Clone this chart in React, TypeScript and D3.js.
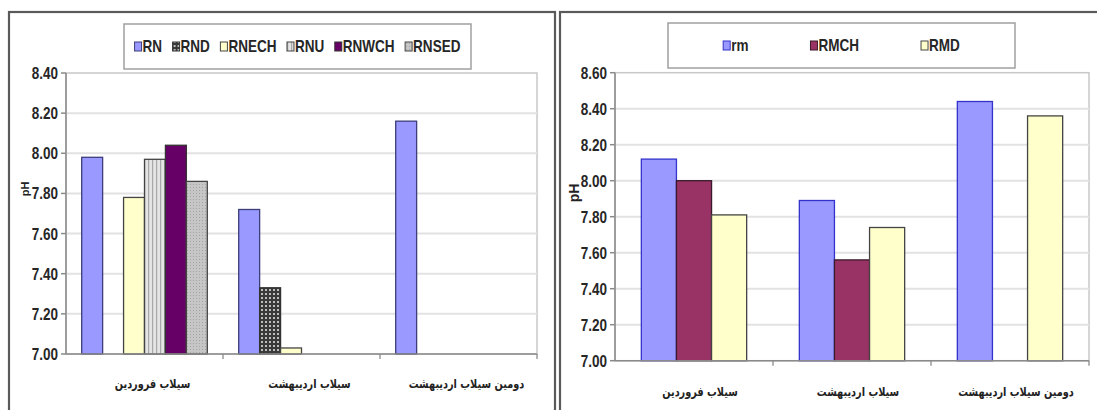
import React, { useEffect, useRef } from "react";
import * as d3 from "d3";

// Flood events (category axis)
const categories = ["سیلاب فروردین", "سیلاب اردیبهشت", "دومین سیلاب اردیبهشت"];

// Left chart: river stations
const leftSeriesNames = ["RN", "RND", "RNECH", "RNU", "RNWCH", "RNSED"];
const rnValues: (number | null)[] = [7.98, 7.72, 8.16];
const rndValues: (number | null)[] = [null, 7.33, null];
const rnechValues: (number | null)[] = [7.78, 7.03, null];
const rnuValues: (number | null)[] = [7.97, null, null];
const rnwchValues: (number | null)[] = [8.04, null, null];
const rnsedValues: (number | null)[] = [7.86, null, null];
const leftTicks = [7.0, 7.2, 7.4, 7.6, 7.8, 8.0, 8.2, 8.4];

// Right chart: reservoir stations
const rightSeriesNames = ["rm", "RMCH", "RMD"];
const rmValues: (number | null)[] = [8.12, 7.89, 8.44];
const rmchValues: (number | null)[] = [8.0, 7.56, null];
const rmdValues: (number | null)[] = [7.81, 7.74, 8.36];
const rightTicks = [7.0, 7.2, 7.4, 7.6, 7.8, 8.0, 8.2, 8.4, 8.6];

const yTitle = "pH";

const NUM_FONT = "'Liberation Sans', Arial, sans-serif";
const FA_FONT = "'DejaVu Sans', 'Noto Sans', sans-serif";
// horizontal squeeze used for the narrow chart lettering
const NARROW = 0.82;

type Series = { name: string; values: (number | null)[]; fill: string; stroke: string };

type ChartCfg = {
  panel: { x: number; y: number; w: number; h: number };
  plot: { x0: number; x1: number; yTop: number; yBottom: number };
  ticks: number[];
  series: Series[];
  legend: { x: number; y: number; w: number; h: number; gap: number };
  titlePos: { x: number; y: number; size: number };
  catLabelY: number;
  catLabelDx: number;
};

type G = d3.Selection<SVGGElement, unknown, null, undefined>;

function drawChart(g: G, cfg: ChartCfg) {
  const { plot, ticks, series } = cfg;

  // panel frame
  g.append("rect")
    .attr("x", cfg.panel.x)
    .attr("y", cfg.panel.y)
    .attr("width", cfg.panel.w)
    .attr("height", cfg.panel.h)
    .attr("fill", "white")
    .attr("stroke", "#5a5a5a")
    .attr("stroke-width", 2.2);

  const y = d3
    .scaleLinear()
    .domain([ticks[0], ticks[ticks.length - 1]])
    .range([plot.yBottom, plot.yTop]);
  const x0 = d3.scaleBand<string>().domain(categories).range([plot.x0, plot.x1]).padding(0);
  const barW = x0.bandwidth() / (series.length + 1.5);
  const x1 = d3
    .scaleBand<string>()
    .domain(series.map((s) => s.name))
    .range([barW * 0.75, barW * 0.75 + barW * series.length])
    .padding(0);

  // plot frame
  g.append("rect")
    .attr("x", plot.x0)
    .attr("y", plot.yTop)
    .attr("width", plot.x1 - plot.x0)
    .attr("height", plot.yBottom - plot.yTop)
    .attr("fill", "white")
    .attr("stroke", "#c8c8c8")
    .attr("stroke-width", 1.5);

  // gridlines
  g.selectAll(null)
    .data(ticks.slice(1, -1))
    .enter()
    .append("line")
    .attr("x1", plot.x0)
    .attr("x2", plot.x1)
    .attr("y1", (d) => y(d))
    .attr("y2", (d) => y(d))
    .attr("stroke", "#e2e2e2")
    .attr("stroke-width", 2);

  // bars
  series.forEach((s) => {
    g.append("g")
      .selectAll("rect")
      .data(s.values.map((v, i) => ({ v, c: categories[i] })).filter((d) => d.v != null))
      .enter()
      .append("rect")
      .attr("x", (d) => (x0(d.c) as number) + (x1(s.name) as number))
      .attr("y", (d) => y(d.v as number))
      .attr("width", barW)
      .attr("height", (d) => y(ticks[0]) - y(d.v as number))
      .attr("fill", s.fill)
      .attr("stroke", s.stroke)
      .attr("stroke-width", 1.3);
  });

  // y axis
  g.append("line")
    .attr("x1", plot.x0)
    .attr("x2", plot.x0)
    .attr("y1", plot.yTop)
    .attr("y2", plot.yBottom)
    .attr("stroke", "#8a8a8a")
    .attr("stroke-width", 1.5);
  g.selectAll(null)
    .data(ticks)
    .enter()
    .append("line")
    .attr("x1", plot.x0 - 5)
    .attr("x2", plot.x0)
    .attr("y1", (d) => y(d))
    .attr("y2", (d) => y(d))
    .attr("stroke", "#8a8a8a")
    .attr("stroke-width", 1.5);
  g.selectAll(null)
    .data(ticks)
    .enter()
    .append("text")
    .attr("transform", (d) => `translate(${plot.x0 - 8},${y(d)}) scale(${NARROW},1)`)
    .attr("dy", "0.36em")
    .attr("text-anchor", "end")
    .attr("font-family", NUM_FONT)
    .attr("font-weight", "bold")
    .attr("font-size", 16.5)
    .attr("fill", "#262626")
    .text((d) => d3.format(".2f")(d));

  // x axis
  g.append("line")
    .attr("x1", plot.x0)
    .attr("x2", plot.x1)
    .attr("y1", plot.yBottom)
    .attr("y2", plot.yBottom)
    .attr("stroke", "#8a8a8a")
    .attr("stroke-width", 1.5);
  g.selectAll(null)
    .data(categories)
    .enter()
    .append("line")
    .attr("x1", (d) => (x0(d) as number) + x0.bandwidth())
    .attr("x2", (d) => (x0(d) as number) + x0.bandwidth())
    .attr("y1", plot.yBottom)
    .attr("y2", plot.yBottom + 5)
    .attr("stroke", "#8a8a8a")
    .attr("stroke-width", 1.3);
  g.selectAll(null)
    .data(categories)
    .enter()
    .append("text")
    .attr(
      "transform",
      (d) =>
        `translate(${(x0(d) as number) + x0.bandwidth() / 2 + cfg.catLabelDx},${cfg.catLabelY}) scale(0.78,1)`
    )
    .attr("dy", "0.35em")
    .attr("text-anchor", "middle")
    .attr("font-family", FA_FONT)
    .attr("font-weight", "bold")
    .attr("font-size", 12.5)
    .attr("fill", "#222")
    .text((d) => d);

  // axis title
  g.append("text")
    .attr("transform", `translate(${cfg.titlePos.x},${cfg.titlePos.y}) rotate(-90)`)
    .attr("text-anchor", "middle")
    .attr("dy", "0.35em")
    .attr("font-family", NUM_FONT)
    .attr("font-weight", "bold")
    .attr("font-size", cfg.titlePos.size)
    .attr("fill", "#222")
    .text(yTitle);

  // legend
  const L = cfg.legend;
  g.append("rect")
    .attr("x", L.x)
    .attr("y", L.y)
    .attr("width", L.w)
    .attr("height", L.h)
    .attr("fill", "white")
    .attr("stroke", "#a0a0a0")
    .attr("stroke-width", 1.5);
  const lg = g.append("g");
  const cy = L.y + L.h / 2;
  let cx = 0;
  series.forEach((s, i) => {
    const item = lg.append("g").attr("transform", `translate(${cx},0)`);
    item
      .append("rect")
      .attr("x", 0)
      .attr("y", cy - 4.5)
      .attr("width", 7)
      .attr("height", 9)
      .attr("fill", s.fill)
      .attr("stroke", s.stroke)
      .attr("stroke-width", 1);
    const t = item
      .append("text")
      .attr("transform", `translate(8,${cy}) scale(${NARROW},1)`)
      .attr("dy", "0.36em")
      .attr("font-family", NUM_FONT)
      .attr("font-weight", "bold")
      .attr("font-size", 16.5)
      .attr("fill", "#262626")
      .text(s.name);
    const w = (t.node() as SVGTextElement).getComputedTextLength() * NARROW;
    cx += 8 + w + (i < series.length - 1 ? L.gap : 0);
  });
  const total = cx;
  lg.attr("transform", `translate(${L.x + (L.w - total) / 2},0)`);
}

function addPatterns(defs: d3.Selection<SVGDefsElement, unknown, null, undefined>) {
  // dark checker
  const p1 = defs
    .append("pattern")
    .attr("id", "pat-checker")
    .attr("patternUnits", "userSpaceOnUse")
    .attr("width", 4)
    .attr("height", 4);
  p1.append("rect").attr("width", 4).attr("height", 4).attr("fill", "#3a3a3a");
  p1.append("rect").attr("x", 1).attr("y", 1).attr("width", 2).attr("height", 2).attr("fill", "#bdbdbd");

  // vertical stripes
  const p2 = defs
    .append("pattern")
    .attr("id", "pat-vstripe")
    .attr("patternUnits", "userSpaceOnUse")
    .attr("width", 4)
    .attr("height", 4);
  p2.append("rect").attr("width", 4).attr("height", 4).attr("fill", "#e4e4e4");
  p2.append("rect").attr("x", 0).attr("width", 1.2).attr("height", 4).attr("fill", "#a8a8a8");

  // fine dots
  const p3 = defs
    .append("pattern")
    .attr("id", "pat-dots")
    .attr("patternUnits", "userSpaceOnUse")
    .attr("width", 3)
    .attr("height", 3);
  p3.append("rect").attr("width", 3).attr("height", 3).attr("fill", "#c6c6c6");
  p3.append("rect").attr("x", 1).attr("y", 1).attr("width", 1).attr("height", 1).attr("fill", "#a4a4a4");
}

export default function App() {
  const ref = useRef<SVGSVGElement | null>(null);

  useEffect(() => {
    const svg = d3.select(ref.current as SVGSVGElement);
    svg.selectAll("*").remove();
    addPatterns(svg.append("defs"));

    const leftSeries: Series[] = [
      { name: leftSeriesNames[0], values: rnValues, fill: "#9999ff", stroke: "#3d3d7a" },
      { name: leftSeriesNames[1], values: rndValues, fill: "url(#pat-checker)", stroke: "#333" },
      { name: leftSeriesNames[2], values: rnechValues, fill: "#ffffcc", stroke: "#444" },
      { name: leftSeriesNames[3], values: rnuValues, fill: "url(#pat-vstripe)", stroke: "#444" },
      { name: leftSeriesNames[4], values: rnwchValues, fill: "#660066", stroke: "#333" },
      { name: leftSeriesNames[5], values: rnsedValues, fill: "url(#pat-dots)", stroke: "#444" },
    ];
    const rightSeries: Series[] = [
      { name: rightSeriesNames[0], values: rmValues, fill: "#9999ff", stroke: "#3333cc" },
      { name: rightSeriesNames[1], values: rmchValues, fill: "#993366", stroke: "#3a1a2a" },
      { name: rightSeriesNames[2], values: rmdValues, fill: "#ffffcc", stroke: "#444" },
    ];

    drawChart(svg.append("g"), {
      panel: { x: 9, y: 12, w: 546, h: 420 },
      plot: { x0: 66, x1: 537, yTop: 73, yBottom: 354 },
      ticks: leftTicks,
      series: leftSeries,
      legend: { x: 124, y: 24, w: 347, h: 45, gap: 10.5 },
      titlePos: { x: 25, y: 189, size: 11 },
      catLabelY: 384,
      catLabelDx: 8,
    });

    drawChart(svg.append("g"), {
      panel: { x: 560, y: 12, w: 560, h: 420 },
      plot: { x0: 615, x1: 1089, yTop: 72.7, yBottom: 360.7 },
      ticks: rightTicks,
      series: rightSeries,
      legend: { x: 668, y: 23, w: 347, h: 45, gap: 62 },
      titlePos: { x: 574, y: 193, size: 14 },
      catLabelY: 392,
      catLabelDx: 6,
    });
  }, []);

  return (
    <svg
      ref={ref}
      width={1097}
      height={410}
      style={{ position: "absolute", left: 0, top: 0, background: "white" }}
    />
  );
}
